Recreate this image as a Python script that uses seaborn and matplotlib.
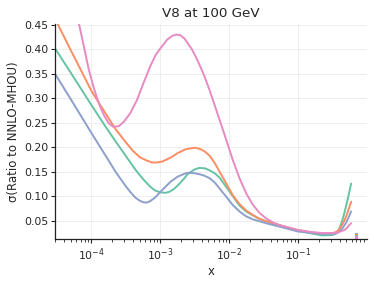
import numpy as np
import pandas as pd
import matplotlib
matplotlib.use("Agg")
import matplotlib.pyplot as plt
import seaborn as sns

# log10(x) positions and values
green_logx = [-4.52, -4.3, -4.0, -3.8, -3.65, -3.5, -3.35, -3.25, -3.15, -3.08, -3.0, -2.93, -2.87, -2.8,
              -2.72, -2.65, -2.6, -2.5, -2.43, -2.35, -2.286, -2.21, -2.14, -2.043, -1.948, -1.851, -1.754,
              -1.658, -1.561, -1.465, -1.27, -1.0, -0.8, -0.65, -0.5, -0.45, -0.42, -0.39, -0.36, -0.33,
              -0.3, -0.27, -0.23]
green_y = [0.400, 0.352, 0.286, 0.243, 0.212, 0.182, 0.152, 0.135, 0.120, 0.112, 0.108, 0.107, 0.109, 0.115,
           0.126, 0.137, 0.146, 0.155, 0.158, 0.157, 0.153, 0.147, 0.138, 0.119, 0.100, 0.081, 0.069,
           0.061, 0.054, 0.049, 0.041, 0.030, 0.024, 0.020, 0.021, 0.024, 0.028, 0.038, 0.050, 0.065,
           0.082, 0.100, 0.126]

orange_logx = [-4.52, -4.3, -4.0, -3.8, -3.65, -3.5, -3.4, -3.3, -3.2, -3.12, -3.05, -2.97, -2.85, -2.75,
               -2.65, -2.6, -2.5, -2.43, -2.36, -2.286, -2.21, -2.14, -2.043, -1.948, -1.851, -1.754,
               -1.658, -1.561, -1.465, -1.27, -1.0, -0.8, -0.65, -0.5, -0.45, -0.42, -0.39, -0.36, -0.33,
               -0.3, -0.27, -0.23]
orange_y = [0.460, 0.398, 0.315, 0.270, 0.237, 0.210, 0.193, 0.180, 0.173, 0.169, 0.169, 0.171, 0.179, 0.188,
            0.195, 0.197, 0.199, 0.197, 0.192, 0.183, 0.168, 0.150, 0.126, 0.102, 0.084, 0.071,
            0.062, 0.054, 0.049, 0.041, 0.031, 0.026, 0.024, 0.025, 0.027, 0.030, 0.035, 0.042, 0.050,
            0.060, 0.072, 0.089]

blue_logx = [-4.52, -4.3, -4.0, -3.8, -3.65, -3.5, -3.42, -3.36, -3.3, -3.25, -3.2, -3.15, -3.08, -3.02,
             -2.95, -2.85, -2.75, -2.65, -2.6, -2.5, -2.43, -2.36, -2.286, -2.21, -2.14, -2.043, -1.948,
             -1.851, -1.754, -1.658, -1.561, -1.465, -1.27, -1.0, -0.8, -0.65, -0.5, -0.45, -0.42, -0.39,
             -0.36, -0.33, -0.3, -0.27, -0.23]
blue_y = [0.348, 0.298, 0.229, 0.184, 0.150, 0.120, 0.106, 0.097, 0.091, 0.088, 0.087, 0.090, 0.097, 0.106,
          0.116, 0.130, 0.140, 0.146, 0.148, 0.147, 0.145, 0.142, 0.137, 0.128, 0.116, 0.099, 0.082,
          0.069, 0.059, 0.053, 0.049, 0.045, 0.038, 0.028, 0.025, 0.023, 0.023, 0.024, 0.026, 0.029,
          0.034, 0.040, 0.047, 0.056, 0.069]

pink_logx = [-4.52, -4.3, -4.183, -4.111, -4.038, -3.966, -3.894, -3.821, -3.749, -3.686, -3.604, -3.531,
             -3.435, -3.338, -3.24, -3.145, -3.07, -3.0, -2.9, -2.82, -2.77, -2.71, -2.65, -2.55, -2.49,
             -2.43, -2.36, -2.286, -2.14, -2.043, -1.948, -1.851, -1.754, -1.658, -1.561, -1.465, -1.37,
             -1.27, -1.0, -0.8, -0.65, -0.5, -0.45, -0.39, -0.33, -0.3, -0.27, -0.23]
pink_y = [0.75, 0.56, 0.453, 0.406, 0.358, 0.321, 0.290, 0.266, 0.249, 0.242, 0.243, 0.252,
          0.270, 0.297, 0.333, 0.366, 0.388, 0.402, 0.420, 0.428, 0.430, 0.429, 0.422, 0.402, 0.386,
          0.368, 0.345, 0.317, 0.256, 0.215, 0.174, 0.137, 0.106, 0.083, 0.066, 0.055, 0.047,
          0.041, 0.031, 0.027, 0.025, 0.025, 0.025, 0.028, 0.031, 0.034, 0.039, 0.045]

# small stacked markers near x = 0.7
marker_x = [0.70, 0.70, 0.70, 0.70]
marker_y = [0.0225, 0.0200, 0.0175, 0.0150]

series_names = ["green", "orange", "blue", "pink"]
colors = sns.color_palette("Set2", 4)
palette = {"green": colors[0], "orange": colors[1], "blue": colors[2], "pink": colors[3]}

frames = []
for name, lx, yy in [("green", green_logx, green_y), ("orange", orange_logx, orange_y),
                     ("blue", blue_logx, blue_y), ("pink", pink_logx, pink_y)]:
    frames.append(pd.DataFrame({"x": 10.0 ** np.array(lx), "y": yy, "series": name}))
df = pd.concat(frames, ignore_index=True)
mdf = pd.DataFrame({"x": marker_x, "y": marker_y, "series": series_names})

sns.set_theme(style="ticks")
plt.rcParams["font.family"] = ["DejaVu Sans"]

fig = plt.figure(figsize=(3.74, 2.81), dpi=100)
ax = fig.add_axes([0.147, 0.149, 0.833, 0.766])

ax.grid(True, which="major", color="#eeeeee", linewidth=0.7)
ax.set_axisbelow(True)

sns.lineplot(data=df, x="x", y="y", hue="series", palette=palette, hue_order=series_names,
             linewidth=1.4, legend=False, ax=ax, sort=False, estimator=None)
sns.scatterplot(data=mdf, x="x", y="y", hue="series", palette=palette, hue_order=series_names,
                marker="s", s=5, linewidth=0, legend=False, ax=ax)

ax.set_xscale("log")
ax.set_xlim(2.95e-5, 0.985)
ax.set_ylim(0.0125, 0.452)
ax.set_yticks([0.05, 0.10, 0.15, 0.20, 0.25, 0.30, 0.35, 0.40, 0.45])
ax.set_yticklabels(["0.05", "0.10", "0.15", "0.20", "0.25", "0.30", "0.35", "0.40", "0.45"])

ax.tick_params(axis="both", which="major", labelsize=7.8, length=3, width=0.8, pad=2)
ax.tick_params(axis="x", which="minor", length=1.8, width=0.6)
sns.despine(ax=ax)
for sp in ["left", "bottom"]:
    ax.spines[sp].set_color("#222222")
    ax.spines[sp].set_linewidth(0.9)

ax.set_title("V8 at 100 GeV", fontsize=9.7, pad=5)
ax.set_xlabel("x", fontsize=8.5, labelpad=2)
ax.set_ylabel("σ(Ratio to NNLO-MHOU)", fontsize=8.5, labelpad=3)

fig.savefig("out.png", dpi=100)
